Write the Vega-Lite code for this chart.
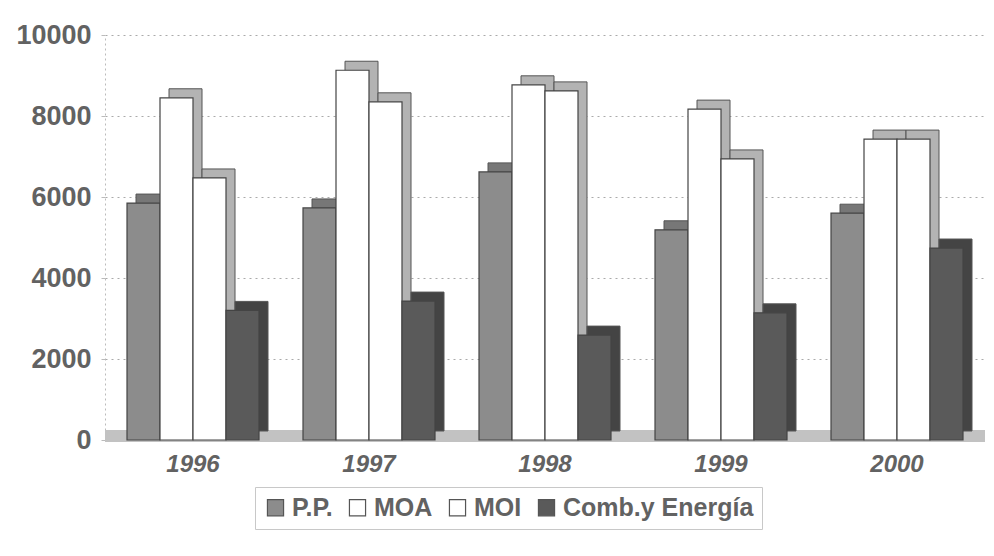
{
  "$schema": "https://vega.github.io/schema/vega-lite/v6.json",
  "width": 880,
  "height": 405,
  "autosize": {"type": "none"},
  "padding": {"left": 105, "top": 35, "right": 9, "bottom": 116},
  "background": "white",
  "config": {
    "view": {"stroke": null},
    "font": "Liberation Sans"
  },
  "data": {
    "values": [
      {"year": "1996", "serie": "P.P.", "o": 1, "value": 5850},
      {"year": "1996", "serie": "MOA", "o": 2, "value": 8450},
      {"year": "1996", "serie": "MOI", "o": 3, "value": 6470},
      {"year": "1996", "serie": "Comb.y Energía", "o": 4, "value": 3200},
      {"year": "1997", "serie": "P.P.", "o": 1, "value": 5730},
      {"year": "1997", "serie": "MOA", "o": 2, "value": 9130},
      {"year": "1997", "serie": "MOI", "o": 3, "value": 8350},
      {"year": "1997", "serie": "Comb.y Energía", "o": 4, "value": 3430},
      {"year": "1998", "serie": "P.P.", "o": 1, "value": 6620},
      {"year": "1998", "serie": "MOA", "o": 2, "value": 8770},
      {"year": "1998", "serie": "MOI", "o": 3, "value": 8620},
      {"year": "1998", "serie": "Comb.y Energía", "o": 4, "value": 2590},
      {"year": "1999", "serie": "P.P.", "o": 1, "value": 5190},
      {"year": "1999", "serie": "MOA", "o": 2, "value": 8170},
      {"year": "1999", "serie": "MOI", "o": 3, "value": 6940},
      {"year": "1999", "serie": "Comb.y Energía", "o": 4, "value": 3140},
      {"year": "2000", "serie": "P.P.", "o": 1, "value": 5600},
      {"year": "2000", "serie": "MOA", "o": 2, "value": 7430},
      {"year": "2000", "serie": "MOI", "o": 3, "value": 7430},
      {"year": "2000", "serie": "Comb.y Energía", "o": 4, "value": 4740}
    ]
  },
  "encoding": {
    "x": {
      "field": "year",
      "type": "nominal",
      "scale": {"paddingInner": 0.25, "paddingOuter": 0.125},
      "axis": {
        "title": null,
        "labelAngle": 0,
        "labelFont": "Liberation Sans",
        "labelFontSize": 24,
        "labelFontWeight": "bold",
        "labelFontStyle": "italic",
        "labelColor": "#626262",
        "labelPadding": 12,
        "ticks": false,
        "domain": false
      }
    },
    "y": {
      "field": "value",
      "type": "quantitative",
      "scale": {"domain": [0, 10000], "nice": false},
      "axis": {
        "title": null,
        "format": "d",
        "values": [0, 2000, 4000, 6000, 8000, 10000],
        "labelFont": "Liberation Sans",
        "labelFontSize": 27,
        "labelFontWeight": "bold",
        "labelColor": "#626262",
        "labelPadding": 10,
        "tickSize": 4,
        "tickColor": "#bbbbbb",
        "domainColor": "#bbbbbb",
        "domainDash": [2, 3],
        "gridColor": "#aaaaaa",
        "gridDash": [2, 4],
        "gridWidth": 1
      }
    }
  },
  "layer": [
    {
      "mark": {"type": "rule", "color": "#c2c2c2", "strokeWidth": 12, "yOffset": -4},
      "encoding": {"y": {"datum": 0}, "x": null}
    },
    {
      "mark": {"type": "bar", "yOffset": -9, "stroke": "#555555", "strokeWidth": 1},
      "encoding": {
        "xOffset": {"field": "o", "type": "ordinal", "scale": {"range": [9, 141]}},
        "fill": {
          "condition": [
            {"test": "datum.serie === 'P.P.'", "value": "#777777"},
            {"test": "datum.serie === 'Comb.y Energía'", "value": "#444444"}
          ],
          "value": "#b3b3b3"
        }
      }
    },
    {
      "mark": {"type": "bar", "stroke": "#444444", "strokeWidth": 1.2},
      "encoding": {
        "xOffset": {"field": "o", "type": "ordinal", "scale": {"range": [0, 132]}},
        "color": {
          "field": "serie",
          "type": "nominal",
          "sort": ["P.P.", "MOA", "MOI", "Comb.y Energía"],
          "scale": {
            "domain": ["P.P.", "MOA", "MOI", "Comb.y Energía"],
            "range": ["#8c8c8c", "#ffffff", "#ffffff", "#5a5a5a"]
          },
          "legend": {
            "title": null,
            "orient": "none",
            "direction": "horizontal",
            "legendX": 150,
            "legendY": 452,
            "symbolType": "square",
            "symbolSize": 260,
            "symbolStrokeColor": "#555555",
            "symbolStrokeWidth": 1.2,
            "labelFont": "Liberation Sans",
            "labelFontSize": 25,
            "labelFontWeight": "bold",
            "labelColor": "#626262",
            "labelOffset": 4,
            "columnPadding": 12,
            "labelLimit": 300,
            "padding": 8,
            "strokeColor": "#c8c8c8"
          }
        }
      }
    }
  ],
  "resolve": {"scale": {"xOffset": "independent"}}
}
